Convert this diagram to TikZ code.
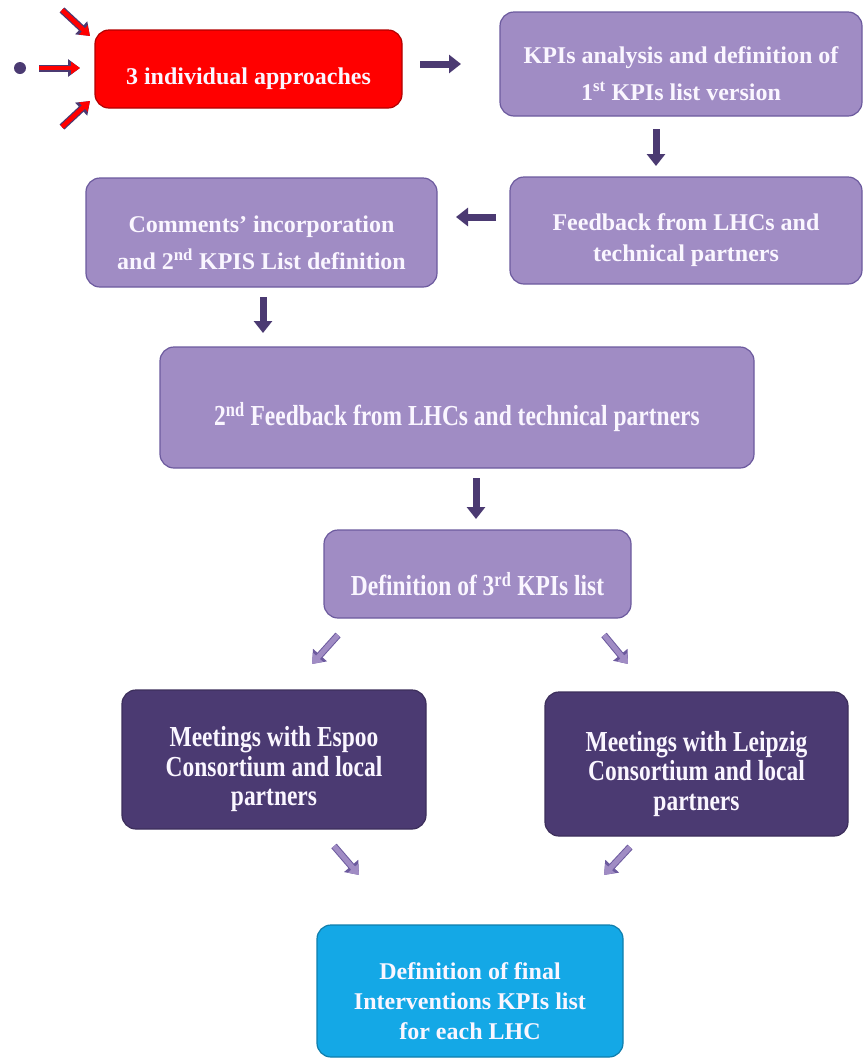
\documentclass[tikz,border=0pt]{standalone}
\usepackage{fontspec}
\setmainfont{Liberation Serif}
\newfontfamily\condfont[FakeStretch=0.81]{Liberation Serif}
\usetikzlibrary{arrows.meta}
\definecolor{lp}{RGB}{160,140,196}
\definecolor{lpo}{RGB}{108,90,158}
\definecolor{dp}{RGB}{75,58,114}
\definecolor{bl}{RGB}{20,168,230}
\definecolor{txt}{RGB}{250,246,255}
\newcommand\dn[1]{\raisebox{-10pt}[\height][\depth]{#1}}
\begin{document}
\begin{tikzpicture}[x=1pt,y=-1pt,
  box/.style={rounded corners=14pt, draw=lpo, line width=1.2pt, inner sep=0pt,
    align=center, text=txt, font=\bfseries\fontsize{24}{31}\selectfont},
  wide/.style={font=\bfseries\fontsize{24}{37}\selectfont},
  cond/.style={font=\bfseries\condfont\fontsize{29}{29.5}\selectfont},
  lightbox/.style={box, fill=lp},
  darkbox/.style={box, cond, fill=dp, draw=dp!80!black},
  redbox/.style={box, fill=red, draw=red!70!black},
  bluebox/.style={box, fill=bl, draw=bl!75!black, font=\bfseries\fontsize{24}{30}\selectfont},
  darkarrow/.style={draw=dp, line width=7pt, -{Triangle[length=12pt,width=18pt]}},
  redarrow/.style={draw=red, line width=4.5pt, -{Triangle[length=9pt,width=12pt]},
    preaction={draw=dp, line width=7pt, -{Triangle[length=12pt,width=17pt]}}},
  lightarrow/.style={draw=lp, line width=5pt, -{Triangle[length=9pt,width=13pt]},
    preaction={draw=lpo, line width=7pt, -{Triangle[length=12pt,width=18pt]}}}
]
\useasboundingbox (0,0) rectangle (863,1058);

\node[redbox, minimum width=307pt, minimum height=78pt] (red) at (248.5,69)
  {\dn{3 individual approaches}};
\node[lightbox, wide, minimum width=362pt, minimum height=104pt] (kpi) at (681,64)
  {\dn{KPIs analysis and definition of}\\\dn{1\textsuperscript{st} KPIs list version}};
\node[lightbox, minimum width=352pt, minimum height=107pt] (fb) at (686,230.5)
  {\dn{Feedback from LHCs and}\\\dn{technical partners}};
\node[lightbox, wide, minimum width=351pt, minimum height=109pt] (com) at (261.5,232.5)
  {\dn{Comments' incorporation}\\\dn{and 2\textsuperscript{nd} KPIS List definition}};
\node[lightbox, cond, minimum width=594pt, minimum height=121pt] (fb2) at (457,407.5)
  {\dn{2\textsuperscript{nd} Feedback from LHCs and technical partners}};
\node[lightbox, cond, minimum width=307pt, minimum height=88pt] (def3) at (477.5,574)
  {\dn{Definition of 3\textsuperscript{rd} KPIs list}};
\node[darkbox, minimum width=304pt, minimum height=139pt] (esp) at (274,759.5)
  {\dn{Meetings with Espoo}\\\dn{Consortium and local}\\\dn{partners}};
\node[darkbox, minimum width=303pt, minimum height=144pt] (lei) at (696.5,764)
  {\dn{Meetings with Leipzig}\\\dn{Consortium and local}\\\dn{partners}};
\node[bluebox, minimum width=306pt, minimum height=132pt] (fin) at (470,991)
  {\dn{Definition of final}\\\dn{Interventions KPIs list}\\\dn{for each LHC}};

% dot and red input arrows
\fill[dp] (20,68) circle (6pt);
\coordinate (r1a) at (62,10);  \coordinate (r1b) at (90,36);
\coordinate (r2a) at (39,68);  \coordinate (r2b) at (80,68);
\coordinate (r3a) at (62,127); \coordinate (r3b) at (90,101);
\draw[redarrow] (r1a) -- (r1b);
\draw[redarrow] (r2a) -- (r2b);
\draw[redarrow] (r3a) -- (r3b);

% dark connectors
\coordinate (a1a) at (420,64);  \coordinate (a1b) at (461,64);
\coordinate (a2a) at (656,129); \coordinate (a2b) at (656,166);
\coordinate (a3a) at (496,217); \coordinate (a3b) at (456,217);
\coordinate (a4a) at (263,297); \coordinate (a4b) at (263,333);
\coordinate (a5a) at (476,478); \coordinate (a5b) at (476,519);
\draw[darkarrow] (a1a) -- (a1b);
\draw[darkarrow] (a2a) -- (a2b);
\draw[darkarrow] (a3a) -- (a3b);
\draw[darkarrow] (a4a) -- (a4b);
\draw[darkarrow] (a5a) -- (a5b);

% light diagonal connectors
\coordinate (b1a) at (338,635); \coordinate (b1b) at (312,664);
\coordinate (b2a) at (604,635); \coordinate (b2b) at (628,664);
\coordinate (b3a) at (334,846); \coordinate (b3b) at (359,875);
\coordinate (b4a) at (630,847); \coordinate (b4b) at (604,875);
\draw[lightarrow] (b1a) -- (b1b);
\draw[lightarrow] (b2a) -- (b2b);
\draw[lightarrow] (b3a) -- (b3b);
\draw[lightarrow] (b4a) -- (b4b);
\end{tikzpicture}
\end{document}
